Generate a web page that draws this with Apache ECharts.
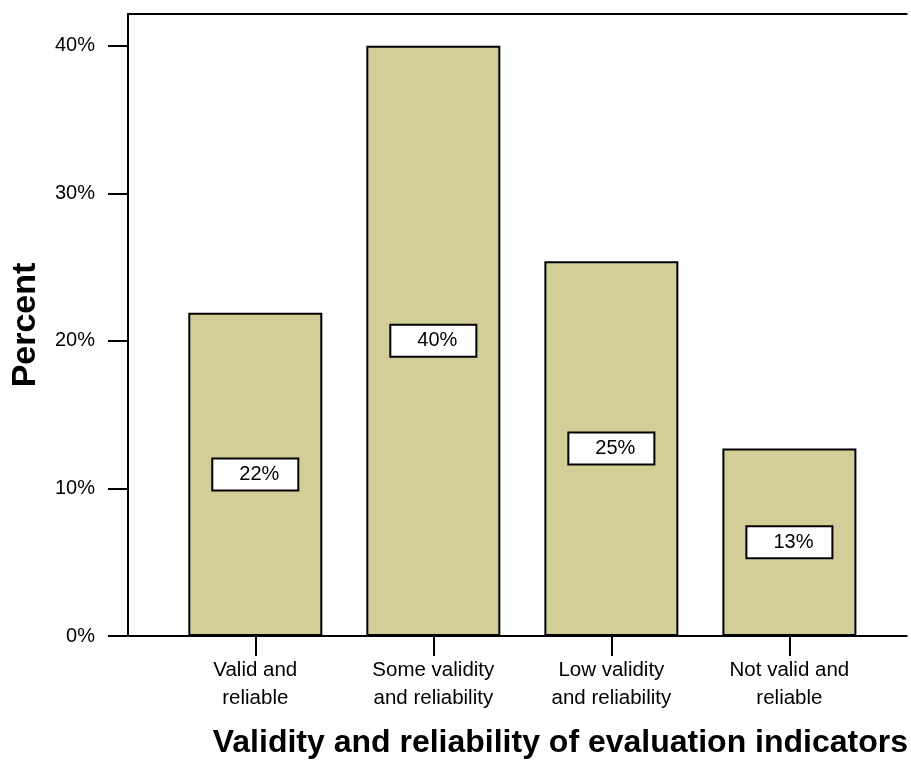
<!DOCTYPE html>
<html>
<head>
<meta charset="utf-8">
<script src="https://cdn.jsdelivr.net/npm/echarts@6/dist/echarts.min.js"></script>
<style>
html,body{margin:0;padding:0;background:#fff;}
#chart{width:911px;height:764px;}
</style>
</head>
<body>
<div id="chart"></div>
<script>
var categories = ["Valid and\nreliable", "Some validity\nand reliability", "Low validity\nand reliability", "Not valid and\nreliable"];
var positions = [1, 2, 3, 4];
var percents = [21.9, 40.0, 25.4, 12.7];
var yTicks = [0, 10, 20, 30, 40];

var FONT = "Arial, 'Liberation Sans', sans-serif";
var chart = echarts.init(document.getElementById('chart'), null, {renderer: 'canvas'});

var seriesData = positions.map(function (p, i) { return [p, percents[i]]; });

var xMin = 0.285, xMax = 4.659;

chart.setOption({
  animation: false,
  backgroundColor: '#ffffff',
  grid: {left: 128, right: 0, top: 14, bottom: 124, containLabel: false},
  xAxis: [{
    type: 'value',
    position: 'bottom',
    min: xMin, max: xMax,
    name: 'Validity and reliability of evaluation indicators',
    nameLocation: 'middle',
    nameGap: 91,
    nameTextStyle: {fontFamily: FONT, fontSize: 32, fontWeight: 'bold', color: '#000', padding: [0, 0, 0, 86]},
    axisLine: {show: true, onZero: false, lineStyle: {color: '#000', width: 2}},
    axisTick: {show: true, length: 20, inside: false, customValues: positions, lineStyle: {color: '#000', width: 2}},
    axisLabel: {
      show: true, customValues: positions, margin: 20,
      fontFamily: FONT, fontSize: 20.5, color: '#000', lineHeight: 28,
      formatter: function (v) { var idx = positions.indexOf(Math.round(v)); return idx >= 0 ? categories[idx] : ''; }
    },
    splitLine: {show: false}
  }, {
    type: 'value',
    position: 'top',
    min: xMin, max: xMax,
    axisLine: {show: true, onZero: false, lineStyle: {color: '#000', width: 2}},
    axisTick: {show: false},
    axisLabel: {show: false},
    splitLine: {show: false}
  }],
  yAxis: {
    type: 'value',
    min: 0, max: 42.15, interval: 10,
    name: 'Percent',
    nameLocation: 'middle',
    nameGap: 85,
    nameTextStyle: {fontFamily: FONT, fontSize: 34, fontWeight: 'bold', color: '#000'},
    axisLine: {show: true, onZero: false, lineStyle: {color: '#000', width: 2}},
    axisTick: {show: true, length: 20, inside: false, customValues: yTicks, lineStyle: {color: '#000', width: 2}},
    axisLabel: {
      show: true, customValues: yTicks, margin: 33,
      fontFamily: FONT, fontSize: 20, color: '#000',
      padding: [0, 0, 10, 0],
      formatter: function (v) { return v + '%'; }
    },
    splitLine: {show: false}
  },
  series: [{
    type: 'bar',
    xAxisIndex: 0,
    data: seriesData,
    barWidth: 134,
    itemStyle: {color: '#d3ce98', borderColor: '#000', borderWidth: 2},
    label: {
      show: true,
      position: 'inside',
      fontFamily: FONT, fontSize: 20, color: '#000',
      lineHeight: 20,
      backgroundColor: '#fff',
      borderColor: '#000', borderWidth: 2,
      padding: [2, 18, 8, 26],
      formatter: function (p) { return Math.round(p.value[1]) + '%'; }
    }
  }]
});
</script>
</body>
</html>
